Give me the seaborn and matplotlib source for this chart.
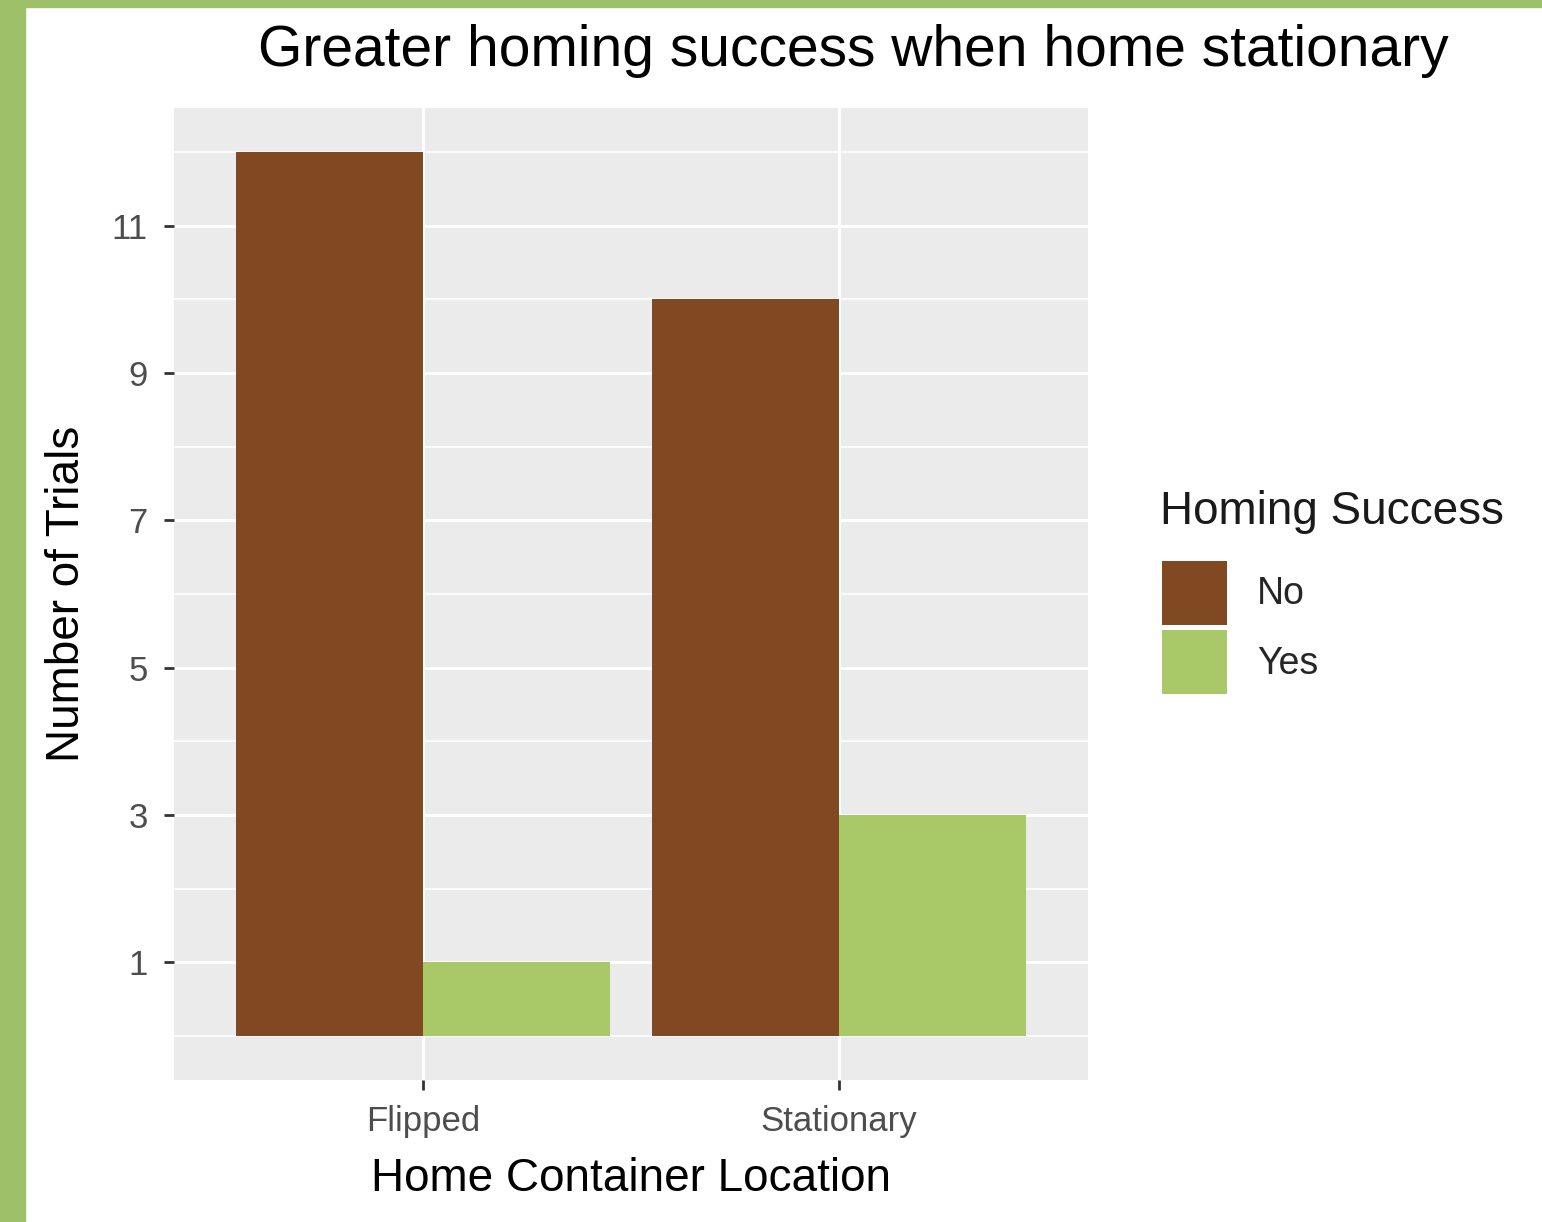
import seaborn as sns
import matplotlib.pyplot as plt
import matplotlib.patches as mpatches
import pandas as pd

locations = ["Flipped", "Flipped", "Stationary", "Stationary"]
success = ["No", "Yes", "No", "Yes"]
trials = [12, 1, 10, 3]
y_ticks = [1, 3, 5, 7, 9, 11]
y_minor = [0, 2, 4, 6, 8, 10, 12]
colors = {"No": "#804922", "Yes": "#A9C968"}

df = pd.DataFrame({"location": locations, "success": success, "trials": trials})

sns.set_theme(style="white")
plt.rcParams['font.family'] = ['Liberation Sans', 'DejaVu Sans']

fig = plt.figure(figsize=(15.42, 12.22), dpi=100)
# green frame on left and top
fig.patches.append(mpatches.Rectangle((0, 0), 25 / 1542, 1, transform=fig.transFigure,
                                      color="#9DC068", zorder=0))
fig.patches.append(mpatches.Rectangle((0, 1 - 7 / 1222), 1, 7 / 1222, transform=fig.transFigure,
                                      color="#9DC068", zorder=0))

ax = fig.add_axes([174 / 1542, 1 - 1080 / 1222, 914 / 1542, 972 / 1222])
ax.set_facecolor("#EBEBEB")

sns.barplot(data=df, x="location", y="trials", hue="success", palette=colors,
            width=0.9, saturation=1, ax=ax, zorder=3, linewidth=0)

ax.set_ylim(-0.6, 12.6)
ax.set_xlim(-0.6, 1.6)
ax.set_yticks(y_ticks)
ax.set_yticks(y_minor, minor=True)
ax.grid(True, which="major", color="white", linewidth=2.2, zorder=0)
ax.grid(True, which="minor", axis="y", color="white", linewidth=1.1, zorder=0)
ax.set_axisbelow(True)
for s in ax.spines.values():
    s.set_visible(False)
ax.tick_params(axis="both", which="major", length=7, width=2, color="#333333",
               labelsize=25, labelcolor="#4D4D4D", left=True, bottom=True)
ax.tick_params(axis="y", which="major", pad=12)
ax.tick_params(axis="x", which="major", pad=11)
ax.tick_params(axis="both", which="minor", length=0)

ax.set_xlabel("Home Container Location", fontsize=33, color="black", labelpad=14)
ax.set_ylabel("Number of Trials", fontsize=33, color="black", labelpad=16)

fig.text(853 / 1542, 1 - 51 / 1222, "Greater homing success when home stationary",
         fontsize=41, ha="center", va="center", color="black")

# legend title placed separately to get ggplot-like spacing
fig.text(1160 / 1542, 1 - 512 / 1222, "Homing Success", fontsize=33,
         ha="left", va="center", color="#1A1A1A")
handles, labels = ax.get_legend_handles_labels()
ax.legend(handles, labels, loc="upper left",
          bbox_to_anchor=(1128 / 1542, 1 - 527 / 1222), bbox_transform=fig.transFigure,
          frameon=False, fontsize=27, handlelength=1.75,
          handleheight=2.25, labelspacing=0.15, handletextpad=0.8)

fig.savefig("out.png", dpi=100, facecolor="white")
